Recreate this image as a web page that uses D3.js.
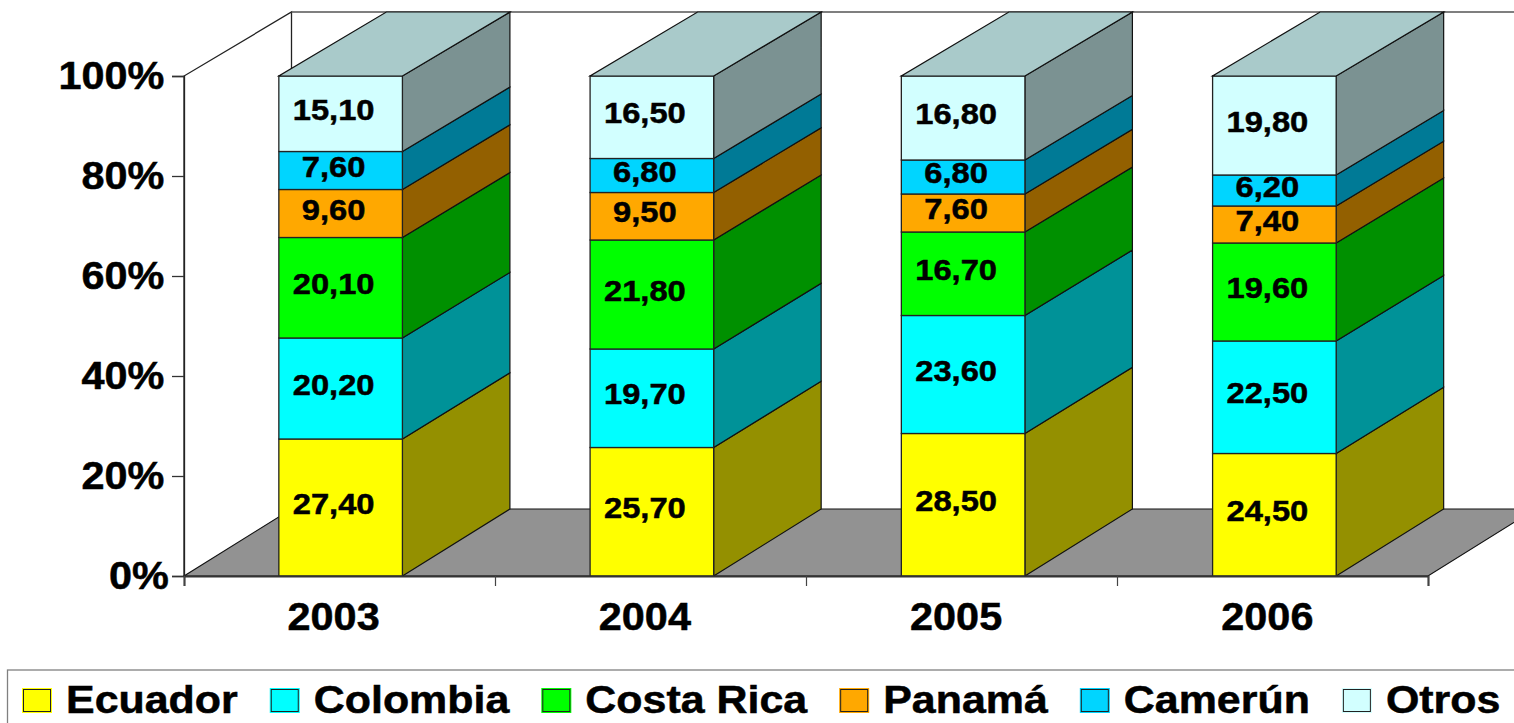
<!DOCTYPE html>
<html>
<head>
<meta charset="utf-8">
<script src="https://cdn.jsdelivr.net/npm/d3@7"></script>
<style>
  html, body { margin: 0; padding: 0; background: #fff; overflow: hidden; }
  svg { display: block; }
  text { font-family: "Liberation Sans", Arial, sans-serif; font-weight: bold; fill: #000; stroke: #000; stroke-width: 0.5px; }
</style>
</head>
<body>
<div id="chart"></div>
<script>
const years = ['2003', '2004', '2005', '2006'];
const seriesNames = ['Ecuador', 'Colombia', 'Costa Rica', 'Panamá', 'Camerún', 'Otros'];

const ecuador = [27.4, 25.7, 28.5, 24.5];
const colombia = [20.2, 19.7, 23.6, 22.5];
const costaRica = [20.1, 21.8, 16.7, 19.6];
const panama = [9.6, 9.5, 7.6, 7.4];
const camerun = [7.6, 6.8, 6.8, 6.2];
const otros = [15.1, 16.5, 16.8, 19.8];

const frontColors = ['#ffff00', '#00ffff', '#00ff00', '#ffa800', '#00d5ff', '#d2ffff'];
const sideColors = ['#949000', '#009298', '#009000', '#936000', '#007a96', '#7b9292'];
const topColor = '#a9caca';
const floorColor = '#929292';
const yTickValues = [0, 20, 40, 60, 80, 100];

const width = 1514, height = 723;
const plotLeft = 184, plotRight = 1428;
const depthX = 107.5;
const stretch = 'scale(1.09,1)'; // the source picture is a bit wider than tall
const legendStretch = 1.13;

const allValues = [ecuador, colombia, costaRica, panama, camerun, otros];
const rows = years.map((year, i) => {
  const row = { year };
  seriesNames.forEach((name, s) => { row[name] = allValues[s][i]; });
  return row;
});

const stacked = d3.stack().keys(seriesNames)(rows);

// Front plane and back plane have their own vertical scale
const y = d3.scaleLinear().domain([0, 100]).range([576, 76]);
const yBack = d3.scaleLinear().domain([0, 100]).range([509, 12]);

const x = d3.scaleBand().domain(years).range([plotLeft + 1, plotRight + 2]).paddingInner(0.603).paddingOuter(0.3015);
const xEdges = d3.scaleLinear().domain([0, years.length]).range([plotLeft, plotRight]);

const svg = d3.select('#chart').append('svg')
  .attr('width', width)
  .attr('height', height);

// Floor
const floorPts = [
  [plotLeft, y(0)], [plotLeft + depthX, yBack(0)],
  [plotRight + depthX, yBack(0)], [plotRight, y(0)]
];
svg.append('polygon')
  .attr('points', floorPts.join(' '))
  .attr('fill', floorColor)
  .attr('stroke', '#111')
  .attr('stroke-width', 1.2);

// Walls
const wall = svg.append('g').attr('fill', 'none').attr('stroke', '#222').attr('stroke-width', 1.3);
wall.append('path').attr('d', d3.line()([
  [plotLeft, y(0)], [plotLeft, y(100)], [plotLeft + depthX, yBack(100)], [plotLeft + depthX, yBack(0)]
]));
wall.append('path').attr('stroke', '#555').attr('d', d3.line()([
  [plotLeft + depthX, yBack(100)], [plotRight + depthX, yBack(100)]
]));

// Bars, bottom segment first
const bars = svg.append('g').selectAll('g')
  .data(years)
  .join('g');

bars.each(function (year, i) {
  const g = d3.select(this);
  const x0 = x(year), x1 = x0 + x.bandwidth();

  stacked.forEach((layer, s) => {
    const [v0, v1] = layer[i];
    g.append('polygon')
      .attr('points', [[x1, y(v0)], [x1 + depthX, yBack(v0)], [x1 + depthX, yBack(v1)], [x1, y(v1)]].join(' '))
      .attr('fill', sideColors[s])
      .attr('stroke', '#111')
      .attr('stroke-width', 1.2);
    g.append('rect')
      .attr('x', x0)
      .attr('y', y(v1))
      .attr('width', x.bandwidth())
      .attr('height', y(v0) - y(v1))
      .attr('fill', frontColors[s])
      .attr('stroke', '#222')
      .attr('stroke-width', 1.3);
  });

  g.append('polygon')
    .attr('points', [[x0, y(100)], [x1, y(100)], [x1 + depthX, yBack(100)], [x0 + depthX, yBack(100)]].join(' '))
    .attr('fill', topColor)
    .attr('stroke', '#111')
    .attr('stroke-width', 1.2);

  // Value labels
  stacked.forEach((layer) => {
    const [v0, v1] = layer[i];
    const value = v1 - v0;
    g.append('text')
      .attr('transform', `translate(${x0 + x.bandwidth() / 2 - 7},${y((v0 + v1) / 2) - 4}) ${stretch}`)
      .attr('text-anchor', 'middle')
      .attr('dominant-baseline', 'central')
      .attr('font-size', 30)
      .text(value.toFixed(2).replace('.', ','));
  });
});

// Y axis
const yAxis = svg.append('g')
  .attr('transform', `translate(${plotLeft},0)`)
  .call(d3.axisLeft(y).tickValues(yTickValues).tickSize(12).tickPadding(0).tickFormat(d => d + '%'));
yAxis.select('.domain').attr('stroke', '#222').attr('stroke-width', 1.3);
yAxis.selectAll('line').attr('stroke', '#333').attr('stroke-width', 1.3);
yAxis.selectAll('text')
  .attr('x', d => d === 0 ? -14 : -18)
  .attr('dy', '0.34em')
  .attr('font-size', 38)
  .attr('font-family', null)
  .attr('transform', stretch);

// X axis: ticks sit between the categories, labels under the bars
const xAxis = svg.append('g')
  .attr('transform', `translate(0,${y(0)})`)
  .call(d3.axisBottom(xEdges).tickValues(d3.range(years.length + 1)).tickSize(10).tickFormat(''));
xAxis.select('.domain').attr('stroke', '#333').attr('stroke-width', 2);
xAxis.selectAll('line').attr('stroke', '#444').attr('stroke-width', 1.2);

svg.append('g').selectAll('text')
  .data(years)
  .join('text')
  .attr('transform', d => `translate(${x(d) + x.bandwidth() / 2 - 7},630) ${stretch}`)
  .attr('text-anchor', 'middle')
  .attr('font-size', 38)
  .text(d => d);

// Legend, cut by the right and bottom edges of the picture
svg.append('rect')
  .attr('x', 7.5)
  .attr('y', 670)
  .attr('width', width + 20)
  .attr('height', 80)
  .attr('fill', '#fff')
  .attr('stroke', '#808080')
  .attr('stroke-width', 1.3);

let legendX = 22;
seriesNames.forEach((name, s) => {
  const item = svg.append('g');
  item.append('rect')
    .attr('x', legendX)
    .attr('y', 688)
    .attr('width', 30)
    .attr('height', 25)
    .attr('fill', frontColors[s]);
  item.append('rect')
    .attr('x', legendX + 1.5)
    .attr('y', 689.5)
    .attr('width', 27)
    .attr('height', 22)
    .attr('fill', 'none')
    .attr('stroke', '#222')
    .attr('stroke-width', 1);
  const label = item.append('text')
    .attr('transform', `translate(${legendX + 44},713) scale(${legendStretch},1)`)
    .attr('font-size', 38)
    .text(name);
  legendX += 44 + label.node().getComputedTextLength() * legendStretch + 32;
});
</script>
</body>
</html>
